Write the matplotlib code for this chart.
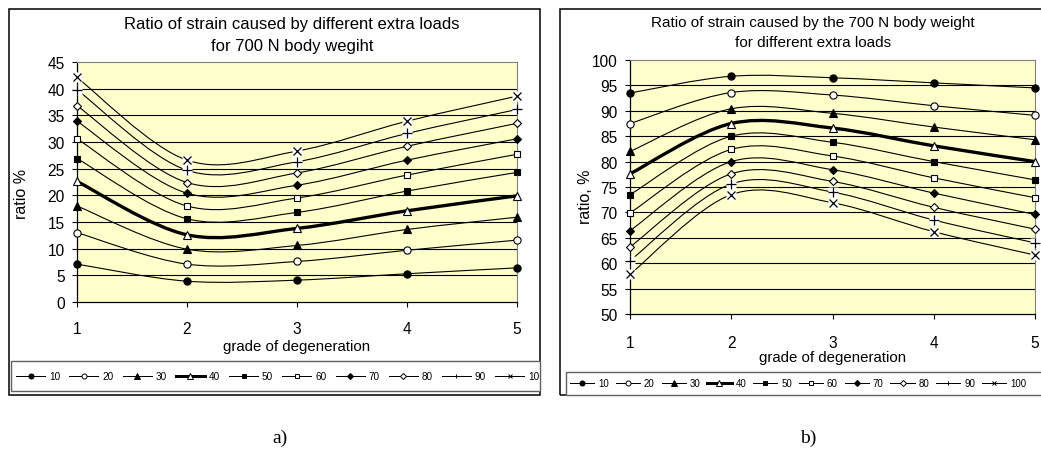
import numpy as np
import matplotlib
matplotlib.use('Agg')
import matplotlib.pyplot as plt
from matplotlib.path import Path
from matplotlib.patches import PathPatch, Rectangle
from matplotlib.lines import Line2D
from matplotlib.transforms import Bbox

plt.rcParams['font.family'] = ['Liberation Sans', 'DejaVu Sans']

# ---------------- data ----------------
grades = [1, 2, 3, 4, 5]
loads = ['10', '20', '30', '40', '50', '60', '70', '80', '90', '100']

# a) ratio of strain caused by different extra loads for 700 N body weight
a_10 = [7.1, 3.9, 4.1, 5.3, 6.4]
a_20 = [13.0, 7.1, 7.6, 9.7, 11.6]
a_30 = [18.0, 9.9, 10.6, 13.6, 15.9]
a_40 = [22.6, 12.6, 13.8, 17.1, 19.9]
a_50 = [26.9, 15.6, 16.8, 20.8, 24.3]
a_60 = [30.6, 18.0, 19.5, 23.8, 27.7]
a_70 = [33.9, 20.4, 21.9, 26.6, 30.6]
a_80 = [36.8, 22.4, 24.2, 29.2, 33.5]
a_90 = [39.8, 24.7, 26.3, 31.6, 36.1]
a_100 = [42.1, 26.6, 28.3, 33.9, 38.6]

# b) ratio of strain caused by the 700 N body weight for different extra loads
b_10 = [93.5, 96.8, 96.5, 95.5, 94.5]
b_20 = [87.5, 93.6, 93.1, 91.0, 89.1]
b_30 = [82.0, 90.4, 89.5, 86.8, 84.3]
b_40 = [77.6, 87.5, 86.6, 83.1, 80.0]
b_50 = [73.5, 85.0, 83.8, 80.0, 76.4]
b_60 = [69.9, 82.4, 81.1, 76.8, 72.9]
b_70 = [66.4, 80.0, 78.4, 73.8, 69.6]
b_80 = [63.2, 77.6, 76.1, 71.0, 66.7]
b_90 = [60.5, 75.6, 74.0, 68.5, 64.0]
b_100 = [57.8, 73.5, 71.9, 66.2, 61.6]

series_a = [a_10, a_20, a_30, a_40, a_50, a_60, a_70, a_80, a_90, a_100]
series_b = [b_10, b_20, b_30, b_40, b_50, b_60, b_70, b_80, b_90, b_100]

title_a = ['Ratio of strain caused by different extra loads',
           'for 700 N body wegiht']
title_b = ['Ratio of strain caused by the 700 N body weight',
           'for different extra loads']

# ---------------- styles ----------------
markers = ['o', 'o', '^', '^', 's', 's', 'D', 'D', '+', 'x']
filled = [True, False, True, False, True, False, True, False, True, True]
msizes = [5.2, 5.2, 5.5, 5.5, 3.8, 3.8, 4.4, 4.4, 6.5, 5.5]
lwidths = [0.8] * 10
lwidths[3] = 2.4

W, H = 1041, 464
fig = plt.figure(figsize=(W / 100, H / 100), dpi=100)


def fx(px):
    return px / W


def fy(py):
    return 1 - py / H


def smooth_path(x, y):
    pts = np.column_stack([x, y]).astype(float)
    n = len(pts)
    verts = [pts[0]]
    codes = [Path.MOVETO]
    for i in range(n - 1):
        p0 = pts[i - 1] if i > 0 else pts[i]
        p1 = pts[i]
        p2 = pts[i + 1]
        p3 = pts[i + 2] if i + 2 < n else pts[i + 1]
        c1 = p1 + (p2 - p0) / 6.0
        c2 = p2 - (p3 - p1) / 6.0
        verts += [c1, c2, p2]
        codes += [Path.CURVE4] * 3
    return Path(verts, codes)


def outline(x0, y0, x1, y1, ec='black', lw=1.0, fc='none', z=0):
    r = Rectangle((fx(x0), fy(y1)), fx(x1) - fx(x0), fy(y0) - fy(y1),
                  transform=fig.transFigure, fill=(fc != 'none'),
                  facecolor=fc, edgecolor=ec, lw=lw, zorder=z)
    fig.patches.append(r)


def make_chart(box, ylim, yticks, series, ylabel, ylabel_pos, title, title_x,
               title_ys, title_fs, tick_fs, xlabel_y, leg_box, leg_x,
               leg_spacing, handlelen, leg_fs, label_pad):
    x0, y0, x1, y1 = box
    ax = fig.add_axes([fx(x0), fy(y1), fx(x1) - fx(x0), fy(y0) - fy(y1)])
    ax.set_facecolor('#FFFFCC')
    ax.set_xlim(1, 5)
    ax.set_ylim(*ylim)
    ax.set_xticks(grades)
    ax.set_yticks(yticks)
    for g in yticks[1:-1]:
        ax.axhline(g, color='black', lw=0.8, zorder=1)
    for i, s in enumerate(series):
        ax.add_patch(PathPatch(smooth_path(grades, s), fill=False,
                               edgecolor='black', lw=lwidths[i], zorder=2,
                               clip_on=False))
        if markers[i] in ('+', 'x'):
            ax.plot(grades, s, linestyle='none', marker='s', ms=7.5,
                    mfc='white', mec='none', zorder=3, clip_on=False)
            ax.plot(grades, s, linestyle='none', marker=markers[i],
                    ms=msizes[i], mec='black', mew=0.9, zorder=4,
                    clip_on=False)
        else:
            ax.plot(grades, s, linestyle='none', marker=markers[i],
                    ms=msizes[i], mfc='black' if filled[i] else 'white',
                    mec='black', mew=0.8, zorder=4, clip_on=False)
    for sp in ['top', 'right']:
        ax.spines[sp].set_color('#808080')
        ax.spines[sp].set_linewidth(0.8)
    for sp in ['left', 'bottom']:
        ax.spines[sp].set_color('black')
        ax.spines[sp].set_linewidth(0.9)
    ax.tick_params(axis='both', direction='out', length=3.8, width=0.8,
                   labelsize=tick_fs, color='black')
    ax.tick_params(axis='y', pad=5)
    ax.tick_params(axis='x', pad=label_pad)
    fig.text(fx(ylabel_pos[0]), fy(ylabel_pos[1]), ylabel, rotation=90,
             ha='center', va='center', fontsize=11.5)
    for line, ty in zip(title, title_ys):
        fig.text(fx(title_x), fy(ty), line, ha='center', va='center',
                 fontsize=title_fs)
    fig.text(fx((x0 + x1) / 2), fy(xlabel_y), 'grade of degeneration',
             ha='center', va='center', fontsize=10.8)

    # legend
    lx0, ly0, lx1, ly1 = leg_box
    outline(lx0, ly0, lx1, ly1, ec='#606060', lw=1.0, fc='white', z=1)
    handles = []
    for i in range(10):
        handles.append(Line2D([], [], color='black', lw=lwidths[i] * 0.9,
                              marker=markers[i],
                              ms=msizes[i] * 0.7 if markers[i] not in ('+', 'x') else 3.5,
                              mfc='black' if filled[i] else 'white',
                              mec='black', mew=0.7))
    leg = fig.legend(handles, loads, ncol=10, loc='center left',
                     bbox_to_anchor=(fx(leg_x), fy((ly0 + ly1) / 2)),
                     frameon=False, fontsize=leg_fs, handlelength=handlelen,
                     handletextpad=0.4, columnspacing=leg_spacing,
                     borderaxespad=0, borderpad=0)
    clip = Bbox.from_extents(lx0, H - ly1, lx1 - 1, H - ly0)
    for a in leg.findobj():
        if a is leg:
            continue
        a.set_clip_box(clip)
        a.set_clip_on(True)
    return ax


# chart a)
outline(9, 10, 540, 396, ec='black', lw=1.1)
make_chart(box=(77, 63, 517, 303), ylim=(0, 45),
           yticks=list(range(0, 50, 5)), series=series_a,
           ylabel='ratio %', ylabel_pos=(22, 194),
           title=title_a, title_x=292, title_ys=(25, 47), title_fs=12,
           tick_fs=11.2, xlabel_y=347,
           leg_box=(11, 362, 540, 392), leg_x=16, leg_spacing=0.9,
           handlelen=2.9, leg_fs=7.2, label_pad=10)

# chart b)
outline(560, 10, 1043, 396, ec='black', lw=1.1)
make_chart(box=(630, 61, 1035, 315), ylim=(50, 100),
           yticks=list(range(50, 105, 5)), series=series_b,
           ylabel='ratio, %', ylabel_pos=(586, 197),
           title=title_b, title_x=813, title_ys=(23, 43), title_fs=11,
           tick_fs=11.2, xlabel_y=358,
           leg_box=(566, 373, 1043, 396), leg_x=570, leg_spacing=0.7,
           handlelen=2.5, leg_fs=7.0, label_pad=11)

fig.text(fx(280), fy(438), 'a)', ha='center', va='center', fontsize=14,
         family=['Liberation Serif', 'DejaVu Serif'])
fig.text(fx(808), fy(438), 'b)', ha='center', va='center', fontsize=14,
         family=['Liberation Serif', 'DejaVu Serif'])

fig.savefig('out.png', dpi=100)
